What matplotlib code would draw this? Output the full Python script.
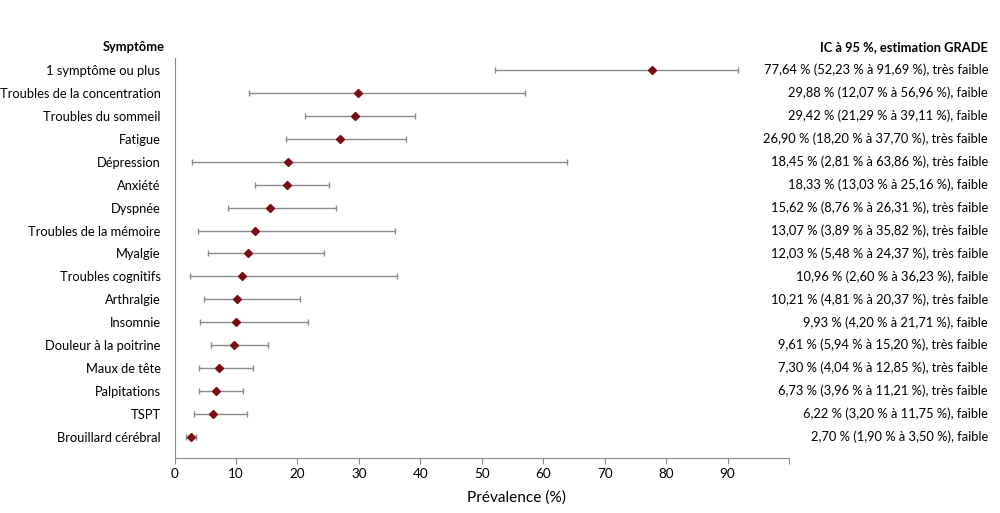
import matplotlib.pyplot as plt
import matplotlib.transforms as mtransforms
import numpy as np

plt.rcParams['font.family'] = ['Liberation Sans Narrow', 'Lato', 'DejaVu Sans']

symptomes = ["1 symptôme ou plus", "Troubles de la concentration", "Troubles du sommeil",
             "Fatigue", "Dépression", "Anxiété", "Dyspnée", "Troubles de la mémoire",
             "Myalgie", "Troubles cognitifs", "Arthralgie", "Insomnie",
             "Douleur à la poitrine", "Maux de tête", "Palpitations", "TSPT",
             "Brouillard cérébral"]
prevalence = [77.64, 29.88, 29.42, 26.90, 18.45, 18.33, 15.62, 13.07, 12.03, 10.96,
              10.21, 9.93, 9.61, 7.30, 6.73, 6.22, 2.70]
ic_bas = [52.23, 12.07, 21.29, 18.20, 2.81, 13.03, 8.76, 3.89, 5.48, 2.60,
          4.81, 4.20, 5.94, 4.04, 3.96, 3.20, 1.90]
ic_haut = [91.69, 56.96, 39.11, 37.70, 63.86, 25.16, 26.31, 35.82, 24.37, 36.23,
           20.37, 21.71, 15.20, 12.85, 11.21, 11.75, 3.50]
grade = ["très faible", "faible", "faible", "très faible", "très faible", "faible",
         "très faible", "très faible", "très faible", "faible", "très faible", "faible",
         "très faible", "très faible", "très faible", "faible", "faible"]


def fr(v):
    return ("%.2f" % v).replace(".", ",")


fig = plt.figure(figsize=(10, 5.13), dpi=100)

# pick a font size so the longest label is about 162 px wide, like the reference
probe = fig.text(0, 0, "Troubles de la concentration", fontsize=10)
fig.canvas.draw()
w = probe.get_window_extent().width
probe.remove()
fs = 10 * 162.0 / w

ax = fig.add_axes([0.1745, 0.107, 0.6145, 0.78])

n = len(symptomes)
y = np.arange(n)[::-1]
prev = np.array(prevalence)
err = [prev - np.array(ic_bas), np.array(ic_haut) - prev]

ax.errorbar(prev, y, xerr=err, fmt='none', ecolor='#8a8a8a', elinewidth=1,
            capsize=2, capthick=1)
ax.plot(prev, y, 'D', color='#7a0e16', markersize=3.6, linestyle='none')

ax.set_xlim(0, 100)
ax.set_ylim(-0.92, n - 0.48)
ax.set_xticks(np.arange(0, 101, 10))
ax.set_xticklabels([str(v) for v in range(0, 100, 10)] + [""])
ax.set_yticks(y)
ax.set_yticklabels(symptomes, fontsize=fs)
ax.tick_params(axis='y', length=0, pad=10)
ax.tick_params(axis='x', length=4, color='#8a8a8a', labelsize=fs * 1.05, pad=3)
for s in ['top', 'right']:
    ax.spines[s].set_visible(False)
for s in ['left', 'bottom']:
    ax.spines[s].set_color('#8a8a8a')

ax.set_xlabel("Prévalence (%)", fontsize=fs * 1.2, va='center')
ax.xaxis.set_label_coords(0.556, -0.0975)

trans = mtransforms.blended_transform_factory(fig.transFigure, ax.transData)
for i in range(n):
    txt = "%s %% (%s %% à %s %%), %s" % (fr(prevalence[i]), fr(ic_bas[i]), fr(ic_haut[i]), grade[i])
    ax.text(0.988, y[i], txt, transform=trans, ha='right', va='center', fontsize=fs)

ax.text(0.165, n - 0.02, "Symptôme", transform=trans, ha='right', va='center',
        fontsize=fs, fontweight='bold')
ax.text(0.988, n - 0.02, "IC à 95 %, estimation GRADE", transform=trans, ha='right',
        va='center', fontsize=fs, fontweight='bold')

plt.savefig("out.png", dpi=100)
